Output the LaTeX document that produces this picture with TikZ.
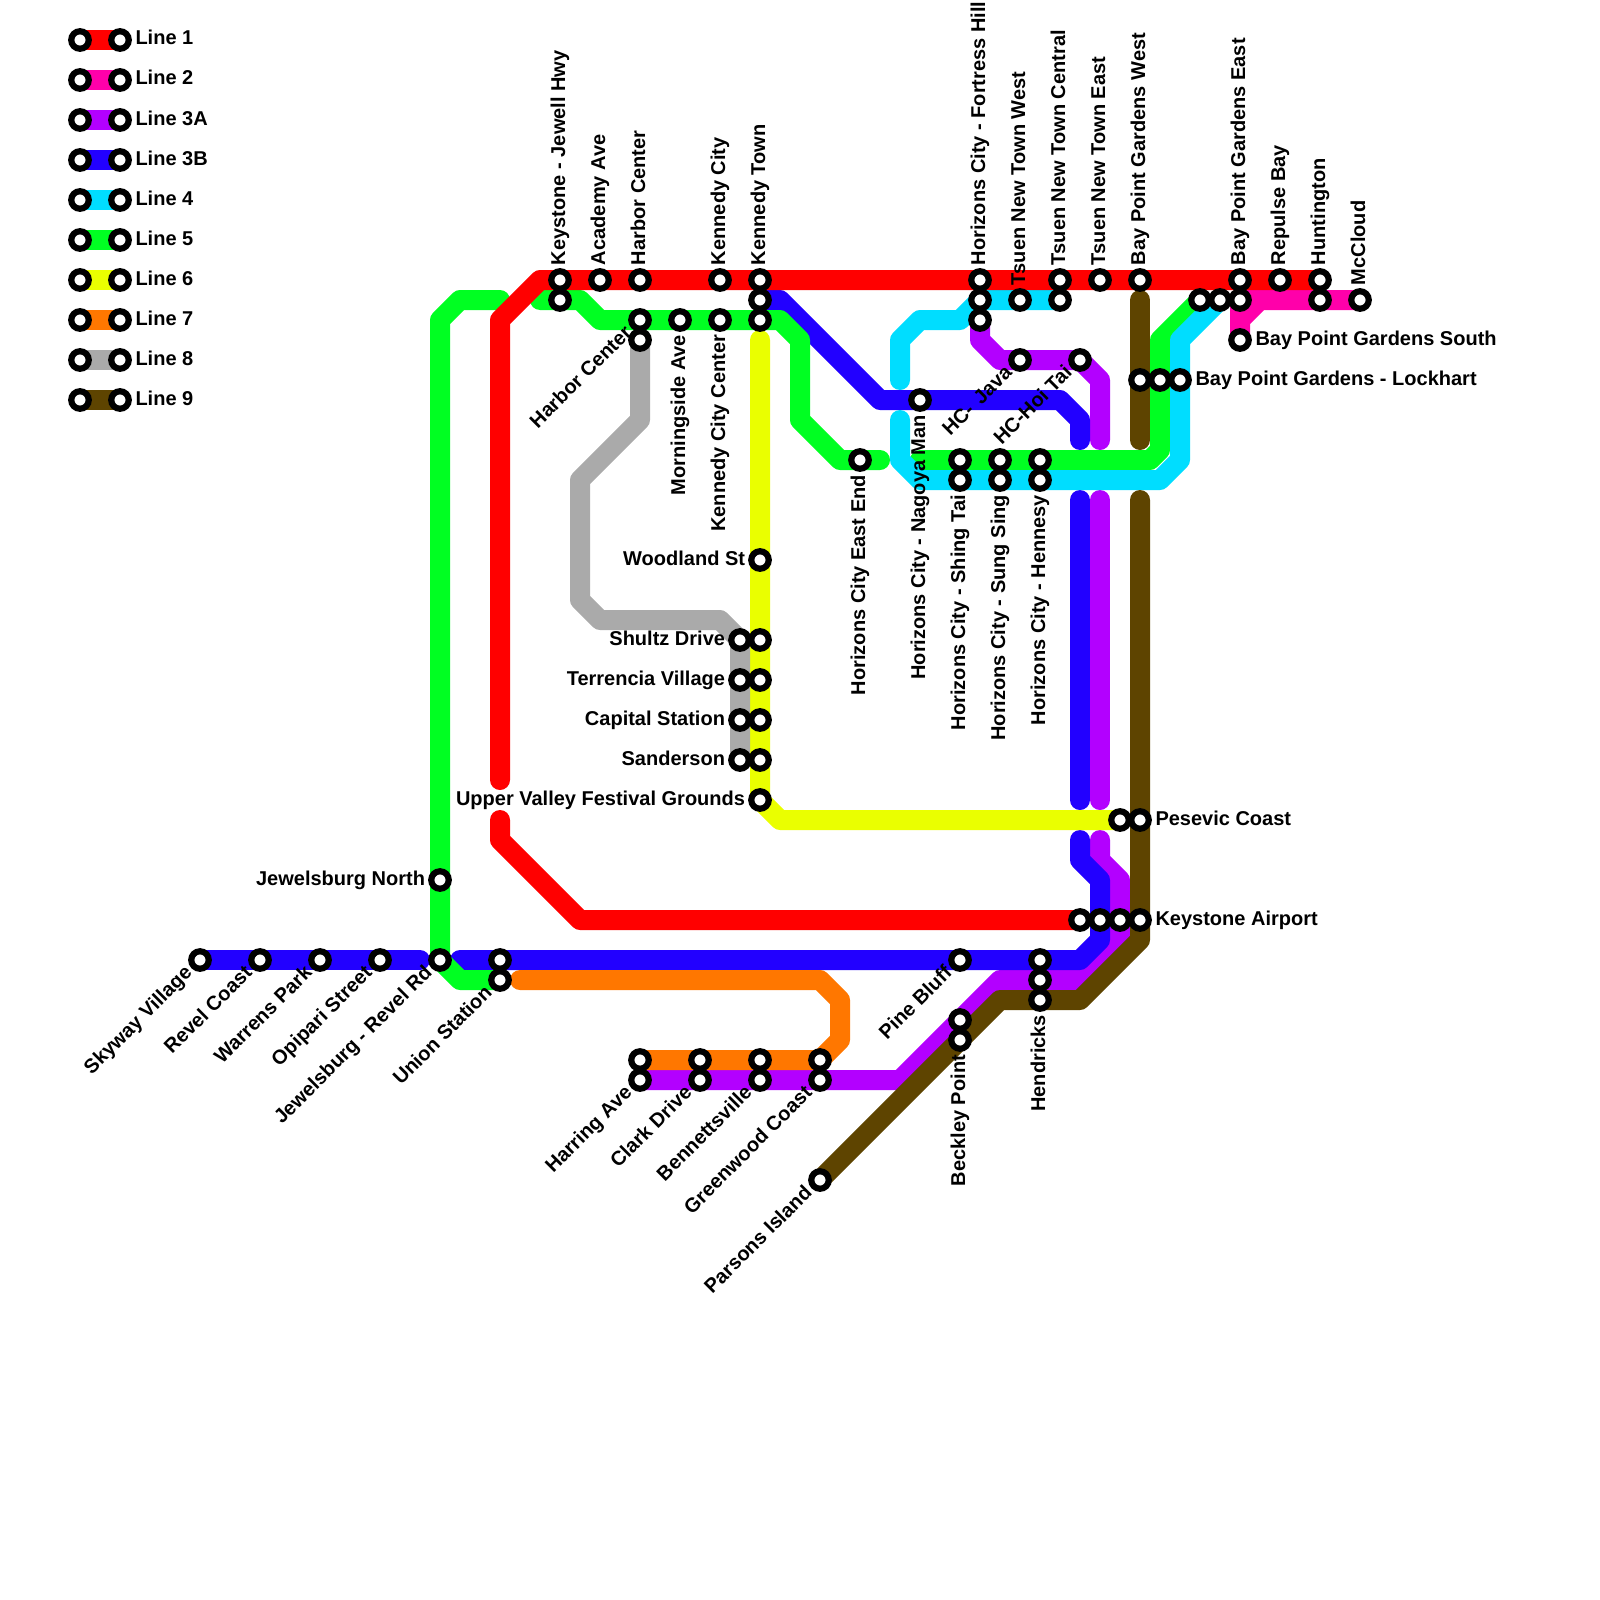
\documentclass[tikz,border=0pt]{standalone}
\usepackage{fontspec}
\setmainfont{Liberation Sans}
\usetikzlibrary{backgrounds}
\definecolor{cA}{HTML}{FF0000}
\definecolor{cB}{HTML}{FF00AA}
\definecolor{cC}{HTML}{B300FF}
\definecolor{cD}{HTML}{2200FF}
\definecolor{cE}{HTML}{00DDFF}
\definecolor{cF}{HTML}{00FF22}
\definecolor{cG}{HTML}{EAFF00}
\definecolor{cH}{HTML}{FF7700}
\definecolor{cI}{HTML}{AAAAAA}
\definecolor{cJ}{HTML}{5E4400}
\tikzset{
  x=1pt,y=-1pt,
  stn/.style={circle,draw=black,fill=white,line width=6.2pt,minimum size=17.5pt,inner sep=0pt,outer sep=0pt},
  metro/.style={line width=20pt,line cap=round,line join=round},
  lbl/.style={inner sep=0pt,outer sep=0pt,font=\fontsize{20}{20}\selectfont\bfseries},
  lup/.style={xshift=5pt,yshift=15pt,rotate=90,lbl,anchor=base west},
  ldn/.style={xshift=5pt,yshift=-15pt,rotate=90,lbl,anchor=base east},
  lrt/.style={xshift=15.5pt,yshift=-5pt,lbl,anchor=base west},
  llf/.style={xshift=-15pt,yshift=-5pt,lbl,anchor=base east},
  ldg/.style={xshift=-7pt,yshift=-14pt,rotate=45,lbl,anchor=base east},
}
\newcommand{\stat}[3]{\node[stn] (#1) at (#2,#3) {};}
\newcommand{\lab}[5]{\node[#4] (#1) at (#2,#3) {#5};}
\begin{document}
\begin{tikzpicture}
\useasboundingbox (0,0) rectangle (1600,1600);
% free line ends
\coordinate (rA) at (500,780);
\coordinate (rB) at (500,820);
\coordinate (pA) at (1100,440);
\coordinate (pB) at (1100,500);
\coordinate (pC) at (1100,800);
\coordinate (pD) at (1100,840);
\coordinate (bA) at (420,960);
\coordinate (bB) at (460,960);
\coordinate (bC) at (1080,840);
\coordinate (bD) at (1080,800);
\coordinate (bE) at (1080,500);
\coordinate (bF) at (1080,440);
\coordinate (cyA) at (900,380);
\coordinate (cyB) at (900,420);
\coordinate (gA) at (880,460);
\coordinate (gB) at (920,460);
\coordinate (gC) at (540,300);
\coordinate (gD) at (500,300);
\coordinate (yA) at (760,340);
\coordinate (oA) at (520,980);
\coordinate (brA) at (1140,300);
\coordinate (brB) at (1140,440);
\coordinate (brC) at (1140,500);
% stations
\foreach \i/\yy in {1/40,2/80,3/120,4/160,5/200,6/240,7/280,8/320,9/360,10/400}{
  \node[stn] (la\i) at (80,\yy) {};
  \node[stn] (lb\i) at (120,\yy) {};
}
\stat{skyway}{200}{960}\stat{revel}{260}{960}\stat{warrens}{320}{960}\stat{opipari}{380}{960}
\stat{jnorth}{440}{880}\stat{jrevel}{440}{960}
\stat{unionA}{500}{960}\stat{unionB}{500}{980}
\stat{keyA}{560}{280}\stat{keyB}{560}{300}
\stat{academy}{600}{280}
\stat{harA}{640}{280}\stat{harB}{640}{320}\stat{harC}{640}{340}
\stat{morning}{680}{320}
\stat{kcA}{720}{280}\stat{kcB}{720}{320}
\stat{ktA}{760}{280}\stat{ktB}{760}{300}\stat{ktC}{760}{320}
\stat{woodland}{760}{560}
\stat{shA}{740}{640}\stat{shB}{760}{640}
\stat{teA}{740}{680}\stat{teB}{760}{680}
\stat{caA}{740}{720}\stat{caB}{760}{720}
\stat{saA}{740}{760}\stat{saB}{760}{760}
\stat{upper}{760}{800}
\stat{heast}{860}{460}
\stat{nagoya}{920}{400}
\stat{shinA}{960}{460}\stat{shinB}{960}{480}
\stat{sungA}{1000}{460}\stat{sungB}{1000}{480}
\stat{henA}{1040}{460}\stat{henB}{1040}{480}
\stat{forA}{980}{280}\stat{forB}{980}{300}\stat{forC}{980}{320}
\stat{twest}{1020}{300}
\stat{tcenA}{1060}{280}\stat{tcenB}{1060}{300}
\stat{teast}{1100}{280}
\stat{java}{1020}{360}\stat{hoi}{1080}{360}
\stat{bwest}{1140}{280}
\stat{lockA}{1140}{380}\stat{lockB}{1160}{380}\stat{lockC}{1180}{380}
\stat{beA}{1200}{300}\stat{beB}{1220}{300}\stat{beC}{1240}{280}\stat{beD}{1240}{300}
\stat{bsouth}{1240}{340}
\stat{repulse}{1280}{280}
\stat{huA}{1320}{280}\stat{huB}{1320}{300}
\stat{mccloud}{1360}{300}
\stat{pesA}{1120}{820}\stat{pesB}{1140}{820}
\stat{airA}{1080}{920}\stat{airB}{1100}{920}\stat{airC}{1120}{920}\stat{airD}{1140}{920}
\stat{pine}{960}{960}
\stat{hndA}{1040}{960}\stat{hndB}{1040}{980}\stat{hndC}{1040}{1000}
\stat{becA}{960}{1020}\stat{becB}{960}{1040}
\stat{hrA}{640}{1060}\stat{hrB}{640}{1080}
\stat{clA}{700}{1060}\stat{clB}{700}{1080}
\stat{bnA}{760}{1060}\stat{bnB}{760}{1080}
\stat{grA}{820}{1060}\stat{grB}{820}{1080}
\stat{parsons}{820}{1180}
% lines
\begin{pgfonlayer}{background}
\foreach \i/\c in {1/cA,2/cB,3/cC,4/cD,5/cE,6/cF,7/cG,8/cH,9/cI,10/cJ}{
  \draw[metro,\c,line cap=butt] (la\i.center) -- (lb\i.center);
}
% line 2
\draw[metro,cB] (mccloud.center) -- (1260,300) -- (1240,320) -- (bsouth.center);
\draw[metro,cB] (beD.center) -- (1260,300) (beD.center) -- (1240,320);
% line 3A
\draw[metro,cC] (forC.center) -- (980,340) -- (1000,360) -- (1080,360) -- (1100,380) -- (pA);
\draw[metro,cC] (pB) -- (pC);
\draw[metro,cC] (pD) -- (1100,860) -- (1120,880) -- (1120,940) -- (1080,980) -- (1000,980) -- (900,1080) -- (hrB.center);
% line 3B
\draw[metro,cD] (skyway.center) -- (bA);
\draw[metro,cD] (bB) -- (1080,960) -- (1100,940) -- (1100,880) -- (1080,860) -- (bC);
\draw[metro,cD] (bD) -- (bE);
\draw[metro,cD] (bF) -- (1080,420) -- (1060,400) -- (880,400) -- (780,300) -- (ktB.center);
% line 5
\draw[metro,cF] (gD) -- (460,300) -- (440,320) -- (440,960) -- (460,980) -- (unionB.center);
\draw[metro,cF] (gC) -- (580,300) -- (600,320) -- (780,320) -- (800,340) -- (800,420) -- (840,460) -- (gA);
\draw[metro,cF] (gB) -- (1150,460) -- (1160,450) -- (1160,340) -- (beA.center);
% line 4
\draw[metro,cE] (cyA) -- (900,340) -- (920,320) -- (960,320) -- (980,300) -- (tcenB.center);
\draw[metro,cE] (cyB) -- (900,460) -- (920,480) -- (1160,480) -- (1180,460) -- (1180,340) -- (beB.center);
% line 1
\draw[metro,cA] (huA.center) -- (540,280) -- (500,320) -- (rA);
\draw[metro,cA] (rB) -- (500,840) -- (580,920) -- (airA.center);
% line 6
\draw[metro,cG] (yA) -- (760,800) -- (780,820) -- (pesA.center);
% line 7
\draw[metro,cH] (oA) -- (820,980) -- (840,1000) -- (840,1040) -- (820,1060) -- (hrA.center);
% line 8
\draw[metro,cI] (harC.center) -- (640,420) -- (580,480) -- (580,600) -- (600,620) -- (720,620) -- (740,640) -- (saA.center);
% line 9
\draw[metro,cJ] (brA) -- (brB);
\draw[metro,cJ] (brC) -- (1140,940) -- (1080,1000) -- (1000,1000) -- (parsons.center);
\end{pgfonlayer}
% legend labels
\foreach \i/\yy/\t in {1/40/Line 1,2/80/Line 2,3/120/Line 3A,4/160/Line 3B,5/200/Line 4,6/240/Line 5,7/280/Line 6,8/320/Line 7,9/360/Line 8,10/400/Line 9}{
  \node[lrt] (lt\i) at (120,\yy) {\t};
}
% labels above
\lab{tk}{560}{280}{lup}{Keystone - Jewell Hwy}
\lab{ta}{600}{280}{lup}{Academy Ave}
\lab{th}{640}{280}{lup}{Harbor Center}
\lab{tkc}{720}{280}{lup}{Kennedy City}
\lab{tkt}{760}{280}{lup}{Kennedy Town}
\lab{tf}{980}{280}{lup}{Horizons City - Fortress Hill}
\lab{ttw}{1020}{300}{lup}{Tsuen New Town West}
\lab{ttc}{1060}{280}{lup}{Tsuen New Town Central}
\lab{tte}{1100}{280}{lup}{Tsuen New Town East}
\lab{tbw}{1140}{280}{lup}{Bay Point Gardens West}
\lab{tbe}{1240}{280}{lup}{Bay Point Gardens East}
\lab{tr}{1280}{280}{lup}{Repulse Bay}
\lab{thu}{1320}{280}{lup}{Huntington}
\lab{tm}{1360}{300}{lup}{McCloud}
% labels below
\lab{dm}{680}{320}{ldn}{Morningside Ave}
\lab{dk}{720}{320}{ldn}{Kennedy City Center}
\lab{de}{860}{460}{ldn}{Horizons City East End}
\lab{dn}{920}{400}{ldn}{Horizons City - Nagoya Man}
\lab{ds}{960}{480}{ldn}{Horizons City - Shing Tai}
\lab{dg}{1000}{480}{ldn}{Horizons City - Sung Sing}
\lab{dh}{1040}{480}{ldn}{Horizons City - Hennesy}
\lab{db}{960}{1040}{ldn}{Beckley Point}
\lab{dd}{1040}{1000}{ldn}{Hendricks}
% labels right
\lab{rs}{1240}{340}{lrt}{Bay Point Gardens South}
\lab{rl}{1180}{380}{lrt}{Bay Point Gardens - Lockhart}
\lab{rp}{1140}{820}{lrt}{Pesevic Coast}
\lab{ra}{1140}{920}{lrt}{Keystone Airport}
% labels left
\lab{lw}{760}{560}{llf}{Woodland St}
\lab{ls}{740}{640}{llf}{Shultz Drive}
\lab{lt}{740}{680}{llf}{Terrencia Village}
\lab{lc}{740}{720}{llf}{Capital Station}
\lab{lsa}{740}{760}{llf}{Sanderson}
\lab{lu}{760}{800}{llf}{Upper Valley Festival Grounds}
\lab{lj}{440}{880}{llf}{Jewelsburg North}
% diagonal labels
\lab{gs}{200}{960}{ldg}{Skyway Village}
\lab{gr}{260}{960}{ldg}{Revel Coast}
\lab{gw}{320}{960}{ldg}{Warrens Park}
\lab{go}{380}{960}{ldg}{Opipari Street}
\lab{gj}{440}{960}{ldg}{Jewelsburg - Revel Rd}
\lab{gu}{500}{980}{ldg}{Union Station}
\lab{gh}{640}{320}{ldg}{Harbor Center}
\lab{gv}{1020}{360}{ldg}{HC- \kern3pt Java}
\lab{gt}{1080}{360}{ldg}{HC-Hoi Tai}
\lab{gi}{640}{1080}{ldg}{Harring Ave}
\lab{gc}{700}{1080}{ldg}{Clark Drive}
\lab{gb}{760}{1080}{ldg}{Bennettsville}
\lab{gg}{820}{1080}{ldg}{Greenwood Coast}
\lab{gp}{960}{960}{ldg}{Pine Bluff}
\lab{gl}{820}{1180}{ldg}{Parsons Island}
\end{tikzpicture}
\end{document}
